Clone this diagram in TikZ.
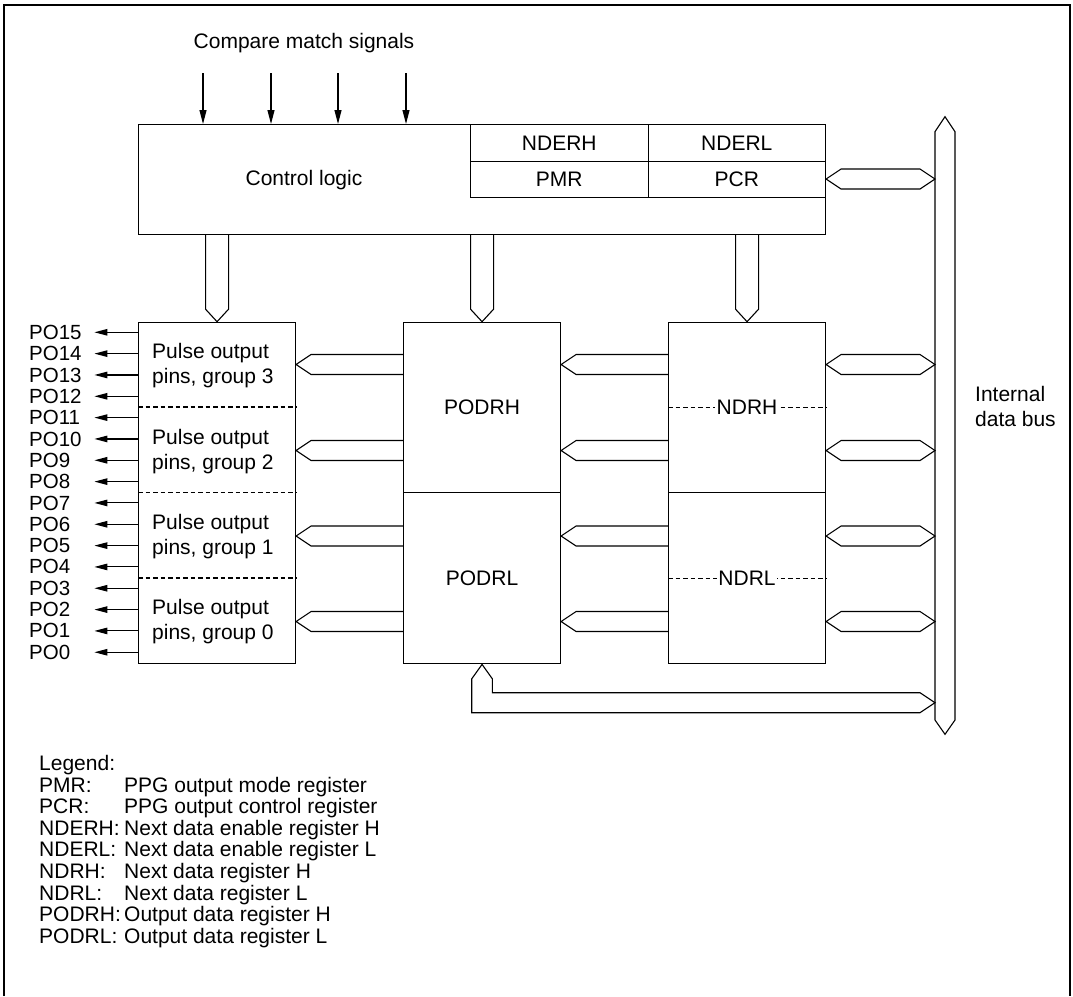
\documentclass[tikz,border=0pt]{standalone}
\usepackage{fontspec}
\setmainfont{Liberation Sans}
\usetikzlibrary{arrows.meta,calc}
\newcommand\vbus[2]{\draw[bus] let \p1=(#1.north), \p2=(#2.south) in (\x1-11.5pt,\y2) -- (\x1-11.5pt,\y1+12.5pt) -- (\x1,\y1) -- (\x1+11.5pt,\y1+12.5pt) -- (\x1+11.5pt,\y2);}
\newcommand\hbusone[3]{\draw[bus] let \p1=(#1.east |- 0,#3), \p2=(#2.west |- 0,#3) in (\x2,\y1+10pt) -- (\x1+15pt,\y1+10pt) -- (\x1,\y1) -- (\x1+15pt,\y1-10pt) -- (\x2,\y1-10pt);}
\newcommand\hbustwo[3]{\draw[bus] let \p1=(#1.east |- 0,#3), \p2=(#2 |- 0,#3) in (\x1,\y1) -- (\x1+15pt,\y1+10pt) -- (\x2-15pt,\y1+10pt) -- (\x2,\y1) -- (\x2-15pt,\y1-10pt) -- (\x1+15pt,\y1-10pt) -- cycle;}
\begin{document}
\begin{tikzpicture}[x=1pt,y=-1pt,
  box/.style={draw,line width=1.1pt,inner sep=0pt,anchor=north west},
  bus/.style={draw,line width=1.1pt,line join=miter},
  sig/.style={line width=1.1pt,-{Triangle[length=14pt,width=7pt]}},
  posig/.style={line width=1.1pt,-{Triangle[length=13pt,width=6.5pt]}},
  txt/.style={font=\fontsize{21}{25}\selectfont,inner sep=0pt},
  dsh/.style={line width=1.1pt,dash pattern=on 4.5pt off 3pt}
]
\useasboundingbox (0,0) rectangle (1073,996);
\draw[line width=2.5pt] (4,996) -- (4,5) -- (1070,5) -- (1070,996);

% control logic
\node[txt] (cms) at (304,43.5) {Compare match signals};
\node[box,minimum width=687pt,minimum height=110pt] (ctrl) at (138,124) {};
\node[txt] (ctrllbl) at (304,180) {Control logic};
\node[box,txt,minimum width=177.5pt,minimum height=36.5pt] (nderh) at (470,124) {NDERH};
\node[box,txt,minimum width=177.5pt,minimum height=36.5pt] (nderl) at (647.5,124) {NDERL};
\node[box,txt,minimum width=177.5pt,minimum height=36.5pt] (pmr) at (470,160.5) {PMR};
\node[box,txt,minimum width=177.5pt,minimum height=36.5pt] (pcr) at (647.5,160.5) {PCR};
\foreach \x/\n in {203/1,271/2,338/3,406/4}{
  \coordinate (s\n) at (\x,73);
  \draw[sig] (s\n) -- (s\n |- ctrl.north);
}

% pulse output box
\node[box,minimum width=157pt,minimum height=341.5pt] (pulse) at (138,321.7) {};
\foreach \y in {407,492.5,578}{
  \draw[dsh] (pulse.west |- 0,\y) -- (pulse.east |- 0,\y);
}
\node[txt,align=left,anchor=west] (g3) at (152,366) {Pulse output\\pins, group 3};
\node[txt,align=left,anchor=west] (g2) at (152,451.5) {Pulse output\\pins, group 2};
\node[txt,align=left,anchor=west] (g1) at (152,537) {Pulse output\\pins, group 1};
\node[txt,align=left,anchor=west] (g0) at (152,622) {Pulse output\\pins, group 0};
\foreach \k in {0,...,15}{
  \pgfmathsetmacro\yy{332.3+(15-\k)*21.33}
  \node[txt,font=\fontsize{20.5}{24}\selectfont,anchor=west,text width=53pt] (po\k) at (29,\yy) {PO\k};
  \draw[posig] (pulse.west |- po\k.east) -- ([xshift=12pt]po\k.east);
}

% output data registers
\node[box,txt,minimum width=157pt,minimum height=170.6pt] (podrh) at (403,321.7) {PODRH};
\node[box,txt,minimum width=157pt,minimum height=171pt] (podrl) at (403,492.3) {PODRL};

% next data registers
\node[box,minimum width=157pt,minimum height=170.6pt] (ndrh) at (668,321.7) {};
\node[box,minimum width=157pt,minimum height=171pt] (ndrl) at (668,492.3) {};
\draw[dsh] (ndrh.west) -- (ndrh.east);
\draw[dsh] (ndrl.west) -- (ndrl.east);
\node[txt,fill=white,inner xsep=1.5pt,inner ysep=1pt] (ndrhlbl) at (ndrh.center) {NDRH};
\node[txt,fill=white,inner xsep=1.5pt,inner ysep=1pt] (ndrllbl) at (ndrl.center) {NDRL};

% internal data bus
\coordinate (bustop) at (945,116.7);
\coordinate (busbot) at (945,734.3);
\coordinate (busL) at (935,0);
\draw[bus] let \p1=(bustop), \p2=(busbot) in (\x1,\y1) -- (\x1+10pt,\y1-15pt) -- (\x2+10pt,\y2+14.3pt) -- (\x2,\y2) -- (\x2-10pt,\y2+14.3pt) -- (\x1-10pt,\y1-15pt) -- cycle;
\node[txt,align=left,anchor=west] (ibus) at (975,406) {Internal\\data bus};

% vertical buses from control logic
\vbus{pulse}{ctrl}
\vbus{podrh}{ctrl}
\vbus{ndrh}{ctrl}

% horizontal buses
\hbustwo{ctrl}{busL}{179}
\hbustwo{ndrh}{busL}{364.5}
\hbustwo{ndrh}{busL}{450.5}
\hbustwo{ndrl}{busL}{536}
\hbustwo{ndrl}{busL}{621.5}
\hbusone{podrh}{ndrh}{364.5}
\hbusone{podrh}{ndrh}{450.5}
\hbusone{podrl}{ndrl}{536}
\hbusone{podrl}{ndrl}{621.5}
\hbusone{pulse}{podrh}{364.5}
\hbusone{pulse}{podrh}{450.5}
\hbusone{pulse}{podrl}{536}
\hbusone{pulse}{podrl}{621.5}

% loop from bus back to PODRL
\draw[bus] let \p1=(podrl.south), \p2=(busL |- 0,702.7) in (\x1,\y1) -- (\x1+10.3pt,\y1-14.4pt) -- (\x1+10.3pt,\y2+10pt) -- (\x2-15pt,\y2+10pt) -- (\x2,\y2) -- (\x2-15pt,\y2-10pt) -- (\x1-10.3pt,\y2-10pt) -- (\x1-10.3pt,\y1-14.4pt) -- cycle;

% legend
\node[txt,anchor=base west] (leg) at (39,770.2) {Legend:};
\foreach \a/\b [count=\i] in {PMR:/PPG output mode register,PCR:/PPG output control register,NDERH:/Next data enable register H,NDERL:/Next data enable register L,NDRH:/Next data register H,NDRL:/Next data register L,PODRH:/Output data register H,PODRL:/Output data register L}{
  \pgfmathsetmacro\yy{792.2+(\i-1)*21.56}
  \node[txt,anchor=base west] (la\i) at (39,\yy) {\a};
  \node[txt,anchor=base west] (lb\i) at (124,\yy) {\b};
}
\end{tikzpicture}
\end{document}
